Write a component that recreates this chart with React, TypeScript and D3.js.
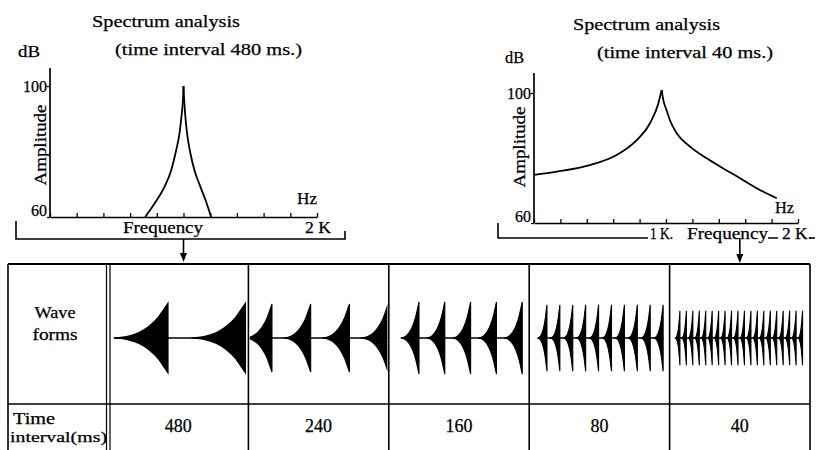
import React, { useEffect, useRef } from "react";
import * as d3 from "d3";

const freqTicks = [0, 200, 400, 600, 800, 1000, 1200, 1400, 1600, 1800, 2000];
const dbTicks = [60, 100];

// spectrum, 480 ms interval: [Hz, dB], both flanks of the peak
const narrowLow = [[713, 60], [783, 64.1], [857, 69.2], [908, 74.3], [945, 80.4], [970, 85.5], [987, 91.6], [997, 96.7], [1000, 100]];
const narrowHigh = [[1000, 100], [1004, 96.5], [1012, 91.6], [1027, 85.5], [1052, 79.4], [1082, 74.3], [1127, 69.2], [1170, 64.6], [1207, 60]];

// spectrum, 40 ms interval
const wideLow = [[0, 74.8], [172, 75.8], [424, 77.8], [626, 80.9], [778, 85.5], [879, 90.7], [942, 96.8], [967, 100.9]];
const wideHigh = [[967, 100.9], [980, 97.8], [1005, 94.6], [1030, 91.6], [1081, 87.6], [1182, 83.5], [1308, 79.9], [1434, 76.8], [1561, 73.8], [1687, 70.7], [1839, 67.6]];

// wave forms
const intervals = [480, 240, 160, 80, 40]; // ms
const pulseCounts = [2, 4, 5, 10, 20];
const firstPulseMs = [372, 146, 187, 110, 64];
const pulseLevel = [1, 0.97, 1.03, 0.95, 0.78];
// envelope before each cut: [fraction of the interval before the cut, relative amplitude]
const envelope = [[0.7, 0], [0.5, 0.06], [0.375, 0.16], [0.25, 0.33], [0.125, 0.6], [0.04, 0.87], [0, 1]];
const windowMs = 870;

const FONT = "'Liberation Serif', 'DejaVu Serif', serif";

function text(g, str, x, y, size, len?, anchor = "start") {
  const t = g
    .append("text")
    .attr("x", x)
    .attr("y", y)
    .attr("font-size", size)
    .attr("text-anchor", anchor)
    .attr("fill", "#000")
    .attr("stroke", "#000")
    .attr("stroke-width", 0.25)
    .text(str);
  if (len) t.attr("textLength", len).attr("lengthAdjust", "spacingAndGlyphs");
  return t;
}

function drawSpectrum(svg, p) {
  const g = svg.append("g").attr("font-family", FONT);
  const x = d3.scaleLinear().domain([0, 2000]).range(p.xRange);
  const y = d3.scaleLinear().domain([60, 100]).range(p.yRange);

  g.append("g")
    .attr("transform", `translate(0,${y(60)})`)
    .call(d3.axisBottom(x).tickValues(freqTicks).tickSize(-4).tickSizeOuter(0).tickFormat(() => ""))
    .call((a) => a.select(".domain").attr("stroke-width", 1.7))
    .call((a) => a.selectAll(".tick line").attr("stroke-width", 1.3));

  g.append("g")
    .attr("transform", `translate(${p.xRange[0]},0)`)
    .call(d3.axisLeft(y).tickValues(dbTicks).tickSize(3).tickSizeOuter(0).tickFormat(() => ""))
    .call((a) => a.select(".domain").attr("d", `M0,${p.axisTop}V${y(60)}`).attr("stroke-width", 1.7))
    .call((a) => a.selectAll(".tick line").attr("stroke-width", 1.3));

  const line = d3
    .line()
    .x((d) => x(d[0]))
    .y((d) => y(d[1]))
    .curve(d3.curveMonotoneX);
  [p.low, p.high].forEach((s) =>
    g.append("path").attr("d", line(s)).attr("fill", "none").attr("stroke", "#000").attr("stroke-width", 1.8)
  );

  const x0 = p.xRange[0];
  text(g, "100", x0 - 3, y(100) + 6, 16, null, "end");
  text(g, "60", x0 - 3, y(60) - 1, 16, null, "end");
  text(g, p.title, p.titleX, p.titleY, 17, p.titleLen);
  text(g, p.subtitle, p.subX, p.subY, 16, p.subLen);
  text(g, "dB", p.dbX, p.dbY, 16, p.dbLen);
  text(g, "Hz", p.hzX, p.hzY, 16, p.hzLen);
  g.append("text")
    .attr("transform", `translate(${p.ampX},${p.ampY}) rotate(-90)`)
    .attr("text-anchor", "middle")
    .attr("dominant-baseline", "central")
    .attr("font-size", 17)
    .attr("stroke", "#000")
    .attr("stroke-width", 0.25)
    .attr("textLength", 81)
    .attr("lengthAdjust", "spacingAndGlyphs")
    .text("Amplitude");
  p.freqLabels.forEach(([s, lx, ly, len]) => text(g, s, lx, ly, 16, len));

  g.append("path")
    .attr("d", p.bracket)
    .attr("fill", "none")
    .attr("stroke", "#000")
    .attr("stroke-width", 1.6);
  return x;
}

function arrow(svg, x, y0, y1) {
  svg.append("line").attr("x1", x).attr("x2", x).attr("y1", y0).attr("y2", y1 - 6).attr("stroke", "#000").attr("stroke-width", 1.6);
  svg.append("path").attr("d", `M${x - 3.5},${y1 - 9}L${x + 3.5},${y1 - 9}L${x},${y1}Z`).attr("fill", "#000");
}

const App = () => {
  const ref = useRef(null);

  useEffect(() => {
    const svg = d3.select(ref.current);
    svg.selectAll("*").remove();

    const xl = drawSpectrum(svg, {
      xRange: [50, 317],
      yRange: [217, 86],
      axisTop: 68,
      low: narrowLow,
      high: narrowHigh,
      title: "Spectrum analysis",
      titleX: 92,
      titleY: 27,
      titleLen: 148,
      subtitle: "(time interval 480 ms.)",
      subX: 115,
      subY: 55,
      subLen: 187,
      dbX: 18,
      dbY: 57,
      dbLen: 22,
      hzX: 297,
      hzY: 204,
      hzLen: 20,
      ampX: 40,
      ampY: 145,
      freqLabels: [
        ["Frequency", 123, 233, 80],
        ["2 K", 305, 233, 26],
      ],
      bracket: "M16,221V239H345V231",
    });

    drawSpectrum(svg, {
      xRange: [534, 798],
      yRange: [223, 93],
      axisTop: 73,
      low: wideLow,
      high: wideHigh,
      title: "Spectrum analysis",
      titleX: 573,
      titleY: 30,
      titleLen: 147,
      subtitle: "(time interval 40 ms.)",
      subX: 597,
      subY: 58,
      subLen: 176,
      dbX: 505,
      dbY: 63,
      dbLen: 19,
      hzX: 775,
      hzY: 213,
      hzLen: 19,
      ampX: 519,
      ampY: 147,
      freqLabels: [
        ["1 K.", 650, 239, 23],
        ["Frequency", 687, 239, 81],
        ["2 K.", 782, 239, 30],
      ],
      bracket: "M498,223V238H648M768,238H778M810,238H815",
    });

    // table
    const col = d3.scaleBand().domain(intervals.map(String)).range([108, 810]);
    const t = svg.append("g").attr("font-family", FONT);
    const top = 264;
    const mid = 404;
    const bottom = 450;
    const lw = 1.6;
    const seg = (x1, y1, x2, y2, w = lw) =>
      t.append("line").attr("x1", x1).attr("y1", y1).attr("x2", x2).attr("y2", y2).attr("stroke", "#000").attr("stroke-width", w);
    seg(8, top, 810, top, 2);
    seg(8, mid, 810, mid);
    seg(8, top, 8, bottom);
    seg(106.5, top, 106.5, bottom, 1.2);
    seg(110, top, 110, bottom, 1.2);
    seg(810, top, 810, bottom);
    intervals.slice(1).forEach((iv) => seg(col(String(iv)), top, col(String(iv)), bottom));

    arrow(svg, xl(1000), 239, 262);
    arrow(svg, col("40") + col.bandwidth() / 2, 238, 263);

    text(t, "Wave", 55, 318, 16, 41, "middle");
    text(t, "forms", 55, 340, 16, 45, "middle");
    text(t, "Time", 13, 424, 16, 42);
    text(t, "interval(ms)", 10, 442, 15, 97);

    intervals.forEach((iv) => text(t, String(iv), col(String(iv)) + col.bandwidth() / 2, 432, 18, null, "middle"));

    // wave forms
    const yw = d3.scaleLinear().domain([-1, 1]).range([373, 303]);
    const defs = svg.append("defs");
    intervals.forEach((iv, c) => {
      const left = col(String(iv));
      const w = col.bandwidth();
      const xt = d3.scaleLinear().domain([0, windowMs]).range([left, left + w]);
      const id = `wclip${c}`;
      defs.append("clipPath").attr("id", id).append("rect").attr("x", left + (c === 0 ? 3 : 1.5)).attr("y", top + 2).attr("width", w - 3).attr("height", mid - top - 4);
      const cg = svg.append("g").attr("clip-path", `url(#${id})`);
      const cuts = d3.range(pulseCounts[c]).map((i) => firstPulseMs[c] + i * iv);
      const lvl = pulseLevel[c];

      cg.append("line")
        .attr("x1", xt(cuts[0] - envelope[0][0] * iv))
        .attr("x2", xt(cuts[cuts.length - 1]))
        .attr("y1", yw(0))
        .attr("y2", yw(0))
        .attr("stroke", "#000")
        .attr("stroke-width", 1.6);

      cuts.forEach((tc) => {
        const area = d3
          .area()
          .x((d) => xt(tc - d[0] * iv))
          .y0((d) => yw(-d[1] * lvl))
          .y1((d) => yw(d[1] * lvl))
          .curve(d3.curveMonotoneX);
        cg.append("path").attr("d", area(envelope)).attr("fill", "#000").attr("stroke", "#000").attr("stroke-width", 1.1);
      });
    });
  }, []);

  return (
    <svg
      ref={ref}
      width={818}
      height={450}
      style={{ position: "absolute", left: 0, top: 0, background: "#fff" }}
    />
  );
};

export default App;
